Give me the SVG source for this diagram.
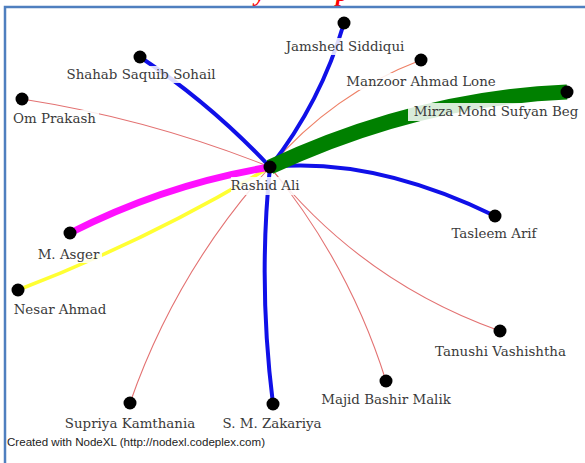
<svg xmlns="http://www.w3.org/2000/svg" width="585" height="463" viewBox="0 0 585 463">
  <style>
    .edge { fill: none; stroke-linecap: butt; }
    .w1 { stroke: #e37272; stroke-width: 1.1; }
    .w2 { stroke: #ffff33; stroke-width: 3.5; }
    .w3 { stroke: #1010e8; stroke-width: 4; }
    .w4 { stroke: #ff10ff; stroke-width: 7; }
    .w5 { stroke: #008000; stroke-width: 15; }
    .dot { fill: #000; }
    .bg { fill: #fff; fill-opacity: 0.85; }
    .lbl { font-family: "DejaVu Serif", "Liberation Serif", serif; font-size: 13.4px; fill: #3a3a3a; text-anchor: middle; }
    .credit { font-family: "Liberation Sans", Arial, sans-serif; font-size: 10.5px; fill: #222; }
    .title { font-family: "Liberation Serif", serif; font-size: 24px; font-weight: bold; font-style: italic; fill: #ff0000; }
  </style>

  <rect width="585" height="463" fill="#fff"/>

  <!-- page title, mostly above the frame -->
  <text class="title" y="1"><tspan x="255">y</tspan><tspan x="336">p</tspan></text>

  <!-- frame -->
  <path d="M5,463 V7 H585" fill="none" stroke="#4f7fbf" stroke-width="2.5"/>

  <!-- connectors -->
  <g id="edges">
    <path class="edge w1" d="M270,167 Q150,119 22,99"/>
    <path class="edge w1" d="M270,167 Q332,94 421,60" style="stroke:#ee8066"/>
    <path class="edge w1" d="M270,167 Q362,282 500,331"/>
    <path class="edge w1" d="M270,167 Q349,263 386,381"/>
    <path class="edge w1" d="M270,167 Q176,271 130,403"/>
    <path class="edge w2" d="M270,167 Q149,240 18,290"/>
    <path class="edge w3" d="M270,167 Q211,104 140,57"/>
    <path class="edge w3" d="M270,167 Q321,102 344,23"/>
    <path class="edge w3" d="M270,167 Q374,157 495,216"/>
    <path class="edge w3" d="M270,167 Q258,285 273,404"/>
    <path class="edge w4" d="M270,167 Q166,184 70,233"/>
    <path class="edge w5" d="M270,167 Q418,98 567,92"/>
  </g>

  <!-- nodes -->
  <g id="n-rashid">
    <circle class="dot" cx="270" cy="167" r="6.5"/>
    <rect class="bg" x="231" y="177" width="68" height="18"/>
    <text class="lbl" x="265" y="190">Rashid Ali</text>
  </g>
  <g id="n-jamshed">
    <circle class="dot" cx="344" cy="23" r="6.5"/>
    <rect class="bg" x="282" y="38" width="126" height="17"/>
    <text class="lbl" x="345" y="51">Jamshed Siddiqui</text>
  </g>
  <g id="n-shahab">
    <circle class="dot" cx="140" cy="57" r="6.5"/>
    <rect class="bg" x="65" y="66" width="152" height="17"/>
    <text class="lbl" x="141" y="79">Shahab Saquib Sohail</text>
  </g>
  <g id="n-manzoor">
    <circle class="dot" cx="421" cy="60" r="6.5"/>
    <rect class="bg" x="340" y="73" width="162" height="17"/>
    <text class="lbl" x="421" y="86">Manzoor Ahmad Lone</text>
  </g>
  <g id="n-mirza">
    <circle class="dot" cx="567" cy="92" r="6.5"/>
    <rect class="bg" x="408" y="103" width="176" height="18"/>
    <text class="lbl" x="496" y="116">Mirza Mohd Sufyan Beg</text>
  </g>
  <g id="n-om">
    <circle class="dot" cx="22" cy="99" r="6.5"/>
    <rect class="bg" x="10" y="110" width="89" height="17"/>
    <text class="lbl" x="54.5" y="123">Om Prakash</text>
  </g>
  <g id="n-asger">
    <circle class="dot" cx="70" cy="233" r="6.5"/>
    <rect class="bg" x="35" y="246" width="67" height="17"/>
    <text class="lbl" x="68.5" y="259">M. Asger</text>
  </g>
  <g id="n-nesar">
    <circle class="dot" cx="18" cy="290" r="6.5"/>
    <rect class="bg" x="10" y="301" width="100" height="17"/>
    <text class="lbl" x="60" y="314">Nesar Ahmad</text>
  </g>
  <g id="n-tasleem">
    <circle class="dot" cx="495" cy="216" r="6.5"/>
    <rect class="bg" x="448" y="225" width="92" height="17"/>
    <text class="lbl" x="494" y="238">Tasleem Arif</text>
  </g>
  <g id="n-tanushi">
    <circle class="dot" cx="500" cy="331" r="6.5"/>
    <rect class="bg" x="430" y="343" width="141" height="17"/>
    <text class="lbl" x="500.5" y="356">Tanushi Vashishtha</text>
  </g>
  <g id="n-majid">
    <circle class="dot" cx="386" cy="381" r="6.5"/>
    <rect class="bg" x="317" y="391" width="138" height="17"/>
    <text class="lbl" x="386" y="404">Majid Bashir Malik</text>
  </g>
  <g id="n-zakariya">
    <circle class="dot" cx="273" cy="404" r="6.5"/>
    <rect class="bg" x="218" y="415" width="108" height="17"/>
    <text class="lbl" x="272" y="428">S. M. Zakariya</text>
  </g>
  <g id="n-supriya">
    <circle class="dot" cx="130" cy="403" r="6.5"/>
    <rect class="bg" x="60" y="415" width="140" height="17"/>
    <text class="lbl" x="130" y="428">Supriya Kamthania</text>
  </g>

  <text class="credit" x="7" y="446" textLength="258" lengthAdjust="spacingAndGlyphs">Created with NodeXL (http://nodexl.codeplex.com)</text>
</svg>
